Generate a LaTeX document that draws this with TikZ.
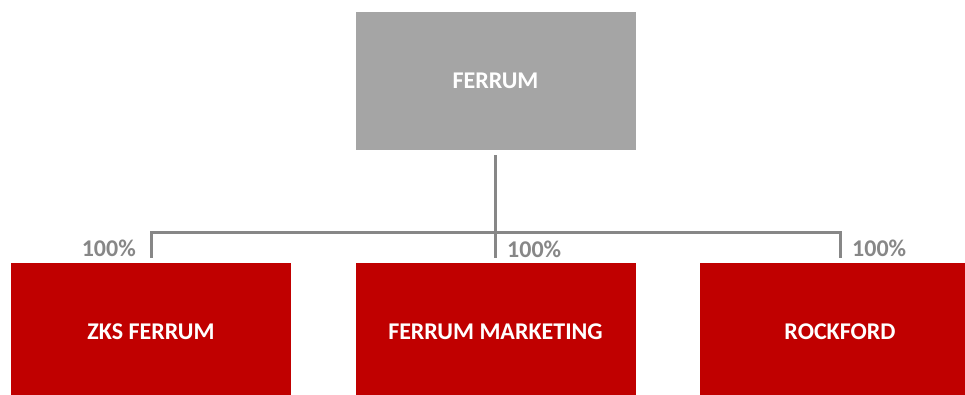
\documentclass[tikz,border=0pt]{standalone}
\usepackage{fontspec}
\setmainfont{Carlito}
\definecolor{boxgray}{HTML}{A5A5A5}
\definecolor{boxred}{HTML}{C00000}
\definecolor{linkgray}{HTML}{878787}
\begin{document}
\begin{tikzpicture}[x=1pt,y=-1pt,
  entity/.style={rectangle, inner sep=0pt, minimum width=280pt, minimum height=138pt,
    text=white, font=\fontsize{24}{24}\selectfont\bfseries},
  parent/.style={entity, fill=boxgray},
  child/.style={entity, fill=boxred},
  link/.style={draw=linkgray, line width=3pt},
  share/.style={text=linkgray, inner sep=0pt, font=\fontsize{24}{24}\selectfont\bfseries}]
  \useasboundingbox (0,0) rectangle (965,394);
  \begin{scope}
    \clip (0,0) rectangle (965,394);
    % holding company
    \node[parent] (top) at (495.5,81) {FERRUM};
    % subsidiaries
    \node[child] (zks) at (151,332) {ZKS FERRUM};
    \node[child] (mkt) at (495.5,332) {FERRUM MARKETING};
    \node[child] (rock) at (840,332) {ROCKFORD};
    % ownership lines, stopping short of the boxes
    \coordinate (bus) at (495.5,232);
    \draw[link] ([yshift=-5pt]top.south) -- ([yshift=5pt]mkt.north);
    \draw[link] ([yshift=5pt]zks.north) |- (bus) -| ([yshift=5pt]rock.north);
    % ownership shares
    \node[share, anchor=base east] (pz) at (136,256) {100\%};
    \node[share, anchor=base west] (pm) at (507,257) {100\%};
    \node[share, anchor=base west] (pr) at (852,256) {100\%};
  \end{scope}
\end{tikzpicture}
\end{document}
